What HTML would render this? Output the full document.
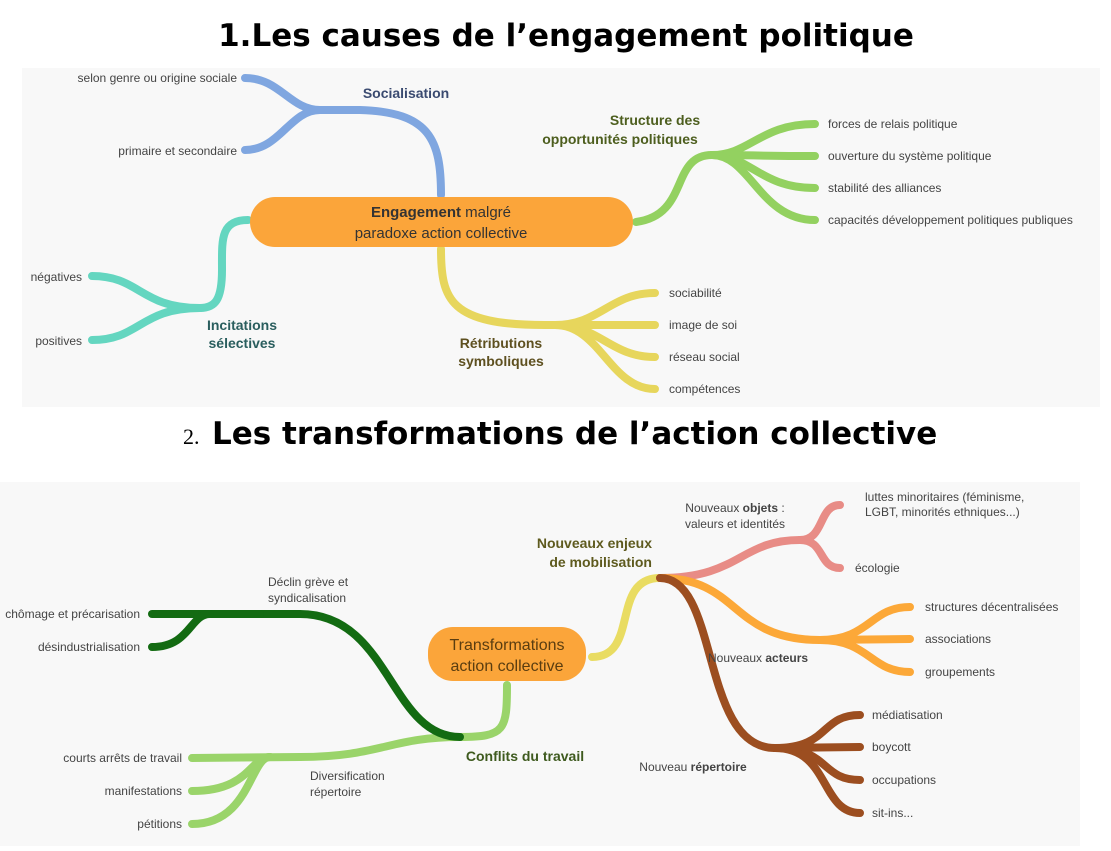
<!DOCTYPE html>
<html><head><meta charset="utf-8"><style>
body{margin:0;background:#fff;width:1111px;height:846px;overflow:hidden}
svg text{font-family:"Liberation Sans",sans-serif}
svg text.t{font-family:"DejaVu Sans",sans-serif}
</style></head><body>
<svg width="1111" height="846" xmlns="http://www.w3.org/2000/svg">
<text class="t" x="566" y="46" text-anchor="middle" font-size="31" font-weight="bold" fill="#000">1.Les causes de l’engagement politique</text>
<rect x="22" y="68" width="1078" height="339" fill="#f8f8f8"/>
<rect x="0" y="482" width="1080" height="364" fill="#f8f8f8"/>
<text x="183" y="444" font-size="22" fill="#000" style="font-family:'Liberation Serif',serif">2.</text>
<text class="t" x="212" y="444" font-size="31" font-weight="bold" fill="#000">Les transformations de l’action collective</text>

<g fill="none" stroke-linecap="round">
<g stroke="#7fa6e0" stroke-width="8">
<path d="M441 195 C441 140 430 112 360 110 L320 110"/>
<path d="M320 110 C290 110 280 78 245 78"/>
<path d="M320 110 C290 110 280 150 245 150"/>
</g>
<g stroke="#93d160" stroke-width="8">
<path d="M636 222 C690 215 670 155 712 155"/>
<path d="M712 155 C750 155 760 124 815 124"/>
<path d="M712 155 C750 155 760 156 815 156"/>
<path d="M712 155 C750 155 760 188 815 188"/>
<path d="M712 155 C750 155 760 220 815 220"/>
</g>
<g stroke="#e7d65c" stroke-width="8">
<path d="M441 249 C441 300 450 325 545 325 L555 325"/>
<path d="M555 325 C600 325 610 293 655 293"/>
<path d="M555 325 L655 325"/>
<path d="M555 325 C600 325 610 357 655 357"/>
<path d="M555 325 C600 325 610 389 655 389"/>
</g>
<g stroke="#64d6c0" stroke-width="8">
<path d="M248 220 C220 220 222 240 222 270 C222 300 215 308 200 308"/>
<path d="M200 308 C140 308 140 276 92 276"/>
<path d="M200 308 C140 308 140 340 92 340"/>
</g>
<g stroke="#e9dc62" stroke-width="8"><path d="M592 657 C640 657 610 578 660 578"/></g>
<g stroke="#e88c86" stroke-width="8">
<path d="M660 578 C740 578 740 540 800 540"/>
<path d="M800 540 C825 540 818 505 840 505"/>
<path d="M800 540 C825 540 818 568 840 568"/>
</g>
<g stroke="#fca838" stroke-width="8">
<path d="M660 578 C740 578 730 640 820 640"/>
<path d="M820 640 C870 640 870 607 910 607"/>
<path d="M820 640 L910 639"/>
<path d="M820 640 C870 640 870 672 910 672"/>
</g>
<g stroke="#9c4e20" stroke-width="8">
<path d="M660 578 C720 578 700 748 775 748"/>
<path d="M775 748 C830 748 820 715 860 715"/>
<path d="M775 748 L860 747"/>
<path d="M775 748 C830 748 820 780 860 780"/>
<path d="M775 748 C830 748 820 813 860 813"/>
</g>
<g stroke="#9ad46a" stroke-width="8">
<path d="M507 685 C507 730 505 737 460 737"/>
<path d="M460 737 C390 737 380 757 300 757"/>
<path d="M300 757 L192 758"/>
<path d="M270 757 C250 757 250 791 192 791"/>
<path d="M270 757 C250 757 250 824 192 824"/>
</g>
<g stroke="#136b12" stroke-width="8">
<path d="M460 737 C390 737 390 614 300 614 L260 614"/>
<path d="M260 614 L152 614"/>
<path d="M210 614 C190 614 190 647 152 647"/>
</g>
</g>

<rect x="250" y="197" width="383" height="50" rx="25" fill="#fba53a"/>
<text x="441" y="217" text-anchor="middle" font-size="15" fill="#333"><tspan font-weight="bold">Engagement</tspan> malgré</text>
<text x="441" y="238" text-anchor="middle" font-size="15" fill="#333">paradoxe action collective</text>

<rect x="428" y="627" width="158" height="54" rx="25" fill="#fba53a"/>
<text x="507" y="650" text-anchor="middle" font-size="16" fill="#5a3d10">Transformations</text>
<text x="507" y="671" text-anchor="middle" font-size="16" fill="#5a3d10">action collective</text>

<g font-size="12" fill="#444">
<text x="237" y="82" text-anchor="end">selon genre ou origine sociale</text>
<text x="237" y="155" text-anchor="end">primaire et secondaire</text>
<text x="82" y="281" text-anchor="end">négatives</text>
<text x="82" y="345" text-anchor="end">positives</text>
<text x="828" y="128">forces de relais politique</text>
<text x="828" y="160">ouverture du système politique</text>
<text x="828" y="192">stabilité des alliances</text>
<text x="828" y="224">capacités développement politiques publiques</text>
<text x="669" y="297">sociabilité</text>
<text x="669" y="329">image de soi</text>
<text x="669" y="361">réseau social</text>
<text x="669" y="393">compétences</text>

<text x="865" y="501">luttes minoritaires (féminisme,</text>
<text x="865" y="516">LGBT, minorités ethniques...)</text>
<text x="855" y="572">écologie</text>
<text x="925" y="611">structures décentralisées</text>
<text x="925" y="643">associations</text>
<text x="925" y="676">groupements</text>
<text x="872" y="719">médiatisation</text>
<text x="872" y="751">boycott</text>
<text x="872" y="784">occupations</text>
<text x="872" y="817">sit-ins...</text>
<text x="140" y="618" text-anchor="end">chômage et précarisation</text>
<text x="140" y="651" text-anchor="end">désindustrialisation</text>
<text x="182" y="762" text-anchor="end">courts arrêts de travail</text>
<text x="182" y="795" text-anchor="end">manifestations</text>
<text x="182" y="828" text-anchor="end">pétitions</text>
<text x="268" y="586">Déclin grève et</text>
<text x="268" y="602">syndicalisation</text>
<text x="310" y="780">Diversification</text>
<text x="310" y="796">répertoire</text>
<text x="735" y="512" text-anchor="middle">Nouveaux <tspan font-weight="bold">objets</tspan> :</text>
<text x="735" y="528" text-anchor="middle">valeurs et identités</text>
<text x="708" y="662">Nouveaux <tspan font-weight="bold">acteurs</tspan></text>
<text x="693" y="771" text-anchor="middle">Nouveau <tspan font-weight="bold">répertoire</tspan></text>
</g>
<g font-size="14" font-weight="bold">
<text x="406" y="98" text-anchor="middle" fill="#3a4a70">Socialisation</text>
<text x="655" y="125" text-anchor="middle" fill="#4d5e1e">Structure des</text>
<text x="620" y="144" text-anchor="middle" fill="#4d5e1e">opportunités politiques</text>
<text x="501" y="348" text-anchor="middle" fill="#5e5020">Rétributions</text>
<text x="501" y="366" text-anchor="middle" fill="#5e5020">symboliques</text>
<text x="242" y="330" text-anchor="middle" fill="#2a5e5e">Incitations</text>
<text x="242" y="348" text-anchor="middle" fill="#2a5e5e">sélectives</text>
<text x="652" y="548" text-anchor="end" fill="#5e5a1e">Nouveaux enjeux</text>
<text x="652" y="567" text-anchor="end" fill="#5e5a1e">de mobilisation</text>
<text x="525" y="761" text-anchor="middle" fill="#3e5a1e">Conflits du travail</text>
</g>
</svg>
</body></html>
